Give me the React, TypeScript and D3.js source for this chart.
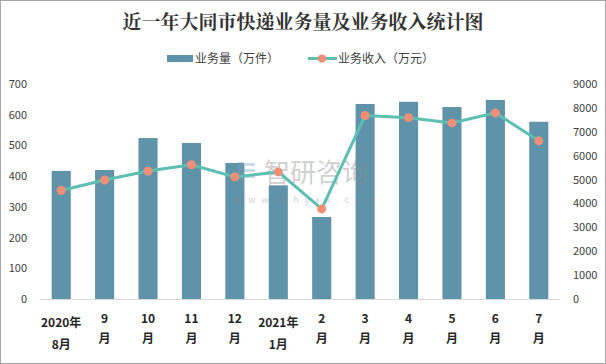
import React from "react";
import * as d3 from "d3";

// 月份标签（两行）
const monthTop = ["2020年", "9", "10", "11", "12", "2021年", "2", "3", "4", "5", "6", "7"];
const monthBottom = ["8月", "月", "月", "月", "月", "1月", "月", "月", "月", "月", "月", "月"];
// 业务量（万件）
const volume = [417, 420, 524, 508, 443, 370, 267, 635, 642, 625, 648, 577];
// 业务收入（万元）
const revenue = [4540, 4980, 5360, 5620, 5110, 5320, 3770, 7680, 7590, 7370, 7790, 6620];
const leftTicks = [0, 100, 200, 300, 400, 500, 600, 700];
const rightTicks = [0, 1000, 2000, 3000, 4000, 5000, 6000, 7000, 8000, 9000];

const W = 606;
const H = 364;
const BAR = "#5f93a9";
const LINE = "#5cbfb1";
const DOT = "#ef8f78";
const FONT = "'Noto Sans CJK SC', 'Noto Sans', sans-serif";

export default function App() {
  const x = d3
    .scaleBand<number>()
    .domain(d3.range(monthTop.length))
    .range([39.5, 560.5])
    .paddingInner(0.56)
    .paddingOuter(0.28);
  const yL = d3.scaleLinear().domain([0, 700]).range([299, 84]);
  const yR = d3.scaleLinear().domain([0, 9000]).range([299, 84]);
  const cx = (i: number) => x(i)! + x.bandwidth() / 2;

  const line = d3
    .line<number>()
    .x((_, i) => cx(i))
    .y((d) => yR(d));

  return (
    <svg
      width={W}
      height={H}
      style={{ position: "absolute", left: 0, top: 0, background: "#fff" }}
      fontFamily={FONT}
    >
      <rect x={0.5} y={0.5} width={W - 1} height={H - 1} fill="#fff" stroke="#a6a6a6" />
      <text
        x={303}
        y={29}
        textAnchor="middle"
        fontSize={19}
        fontWeight="bold"
        fontFamily="'Noto Serif CJK SC', 'Noto Sans CJK SC', serif"
        fill="#333"
      >
        近一年大同市快递业务量及业务收入统计图
      </text>

      {/* 图例 */}
      <rect x={167} y={55} width={26} height={7} fill={BAR} />
      <text x={195} y={63} fontSize={12} fill="#404040">业务量（万件）</text>
      <line x1={308} x2={337} y1={58.5} y2={58.5} stroke={LINE} strokeWidth={3} />
      <circle cx={322} cy={58.5} r={4} fill={DOT} />
      <text x={338} y={63} fontSize={12} fill="#404040">业务收入（万元）</text>

      {/* 左轴 */}
      {leftTicks.map((t) => (
        <text key={t} x={27} y={yL(t) + 4} textAnchor="end" fontSize={11} fill="#404040">
          {t}
        </text>
      ))}
      {/* 右轴 */}
      {rightTicks.map((t) => (
        <text key={t} x={573} y={yR(t) + 4} textAnchor="start" fontSize={11} fill="#404040">
          {t}
        </text>
      ))}

      {/* 柱 */}
      {volume.map((v, i) => (
        <rect key={i} x={x(i)} y={yL(v)} width={x.bandwidth()} height={yL(0) - yL(v)} fill={BAR} />
      ))}
      <line x1={39.5} x2={560.5} y1={299.5} y2={299.5} stroke="#d9d9d9" />

      {/* 水印 */}
      <g opacity={0.4}>
        <rect x={238} y={162} width={5} height={18} fill="#7f9fbf" />
        <rect x={245} y={163} width={10} height={3} fill="#7f9fbf" />
        <rect x={245} y={169} width={10} height={3} fill="#7f9fbf" />
        <rect x={245} y={175} width={10} height={3} fill="#7f9fbf" />
        <text x={264} y={182} fontSize={26} fill="#8c8c8c">智研咨询</text>
        <text x={235} y={203} fontSize={9} fill="#8c8c8c" letterSpacing={6}>www.chyxx.com</text>
      </g>

      {/* 折线 */}
      <path d={line(revenue) ?? ""} fill="none" stroke={LINE} strokeWidth={3} />
      {revenue.map((r, i) => (
        <circle key={i} cx={cx(i)} cy={yR(r)} r={4.5} fill={DOT} />
      ))}

      {/* X 轴标签 */}
      {monthTop.map((m, i) => {
        const two = m.includes("年");
        return (
          <g key={i} fontSize={12} fontWeight="bold" fill="#262626" textAnchor="middle">
            <text x={cx(i)} y={two ? 327 : 323}>{m}</text>
            <text x={cx(i)} y={two ? 349 : 343}>{monthBottom[i]}</text>
          </g>
        );
      })}
    </svg>
  );
}
